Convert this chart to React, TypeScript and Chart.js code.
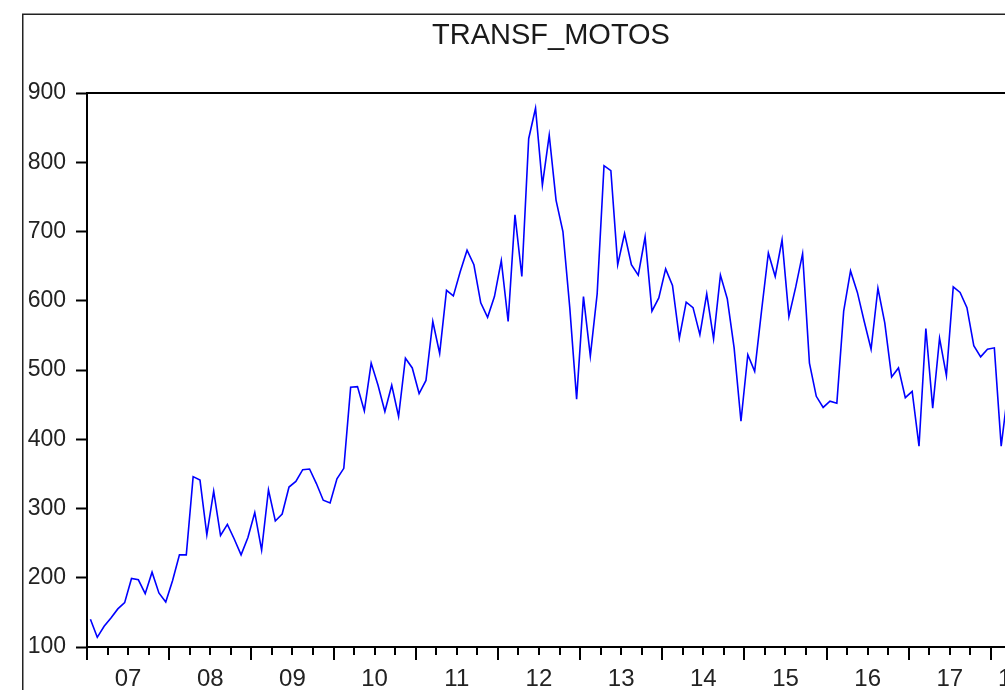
import React, { useEffect, useRef } from 'react';
import { Chart, registerables } from 'chart.js';

Chart.register(...registerables);

const TITLE = 'TRANSF_MOTOS';

// Monthly observations starting January 2007 (index 0)
const values: number[] = [
  140, 114, 130, 142, 155, 164, 199, 197, 177, 208, 178, 165,
  196, 233, 233, 346, 341, 262, 325, 261, 277, 256, 233, 258,
  294, 240, 327, 282, 292, 331, 339, 356, 357, 336, 312, 308,
  343, 358, 475, 476, 441, 510, 478, 440, 478, 433, 517, 503,
  466, 485, 570, 524, 615, 607, 642, 673, 652, 597, 576, 606,
  658, 570, 724, 635, 834, 878, 767, 839, 745, 700, 590, 458,
  606, 520, 610, 795, 788, 652, 697, 652, 637, 692, 585, 604,
  646, 622, 546, 598, 590, 551, 610, 545, 637, 603, 532, 426,
  522, 498, 585, 669, 635, 688, 577, 620, 668, 510, 462, 446,
  455, 452, 585, 643, 612, 570, 530, 618, 568, 490, 503, 460,
  469, 390, 560, 445, 546, 492, 620, 612, 590, 535, 519, 530,
  532, 390, 470,
];

const yTickValues: number[] = [100, 200, 300, 400, 500, 600, 700, 800, 900];
const xYearLabels: string[] = ['07', '08', '09', '10', '11', '12', '13', '14', '15', '16', '17', '18'];
const AXIS_END_MONTH = 138; // axis runs to end of June 2018

const FONT = '"Liberation Sans", Arial, sans-serif';

export default function App() {
  const ref = useRef<HTMLCanvasElement | null>(null);

  useEffect(() => {
    if (!ref.current) return;
    const points = values.map((v, i) => ({ x: i + 0.5, y: v }));

    const labelAt = new Map<number, string>();
    xYearLabels.forEach((l, k) => {
      const s = k * 12;
      const e = Math.min(s + 12, AXIS_END_MONTH);
      labelAt.set((s + e) / 2, l);
    });
    const quarterTicks: number[] = [];
    for (let v = 0; v <= AXIS_END_MONTH; v += 3) quarterTicks.push(v);

    const framePlugin = {
      id: 'frameDeco',
      afterDraw(chart: any) {
        const { ctx, chartArea } = chart;
        const { left, right, top, bottom } = chartArea;
        const xs = chart.scales.x;
        ctx.save();
        ctx.strokeStyle = '#000';
        ctx.lineWidth = 2;
        ctx.beginPath();
        ctx.moveTo(left - 1, top);
        ctx.lineTo(right, top);
        ctx.lineTo(right, bottom);
        ctx.stroke();
        quarterTicks.forEach((v) => {
          const px = Math.round(xs.getPixelForValue(v));
          const len = v % 12 === 0 ? 13 : 8;
          ctx.beginPath();
          ctx.moveTo(px, bottom);
          ctx.lineTo(px, bottom + len);
          ctx.stroke();
        });
        ctx.lineWidth = 1.5;
        ctx.strokeStyle = '#222';
        ctx.beginPath();
        ctx.moveTo(22.75, chart.height);
        ctx.lineTo(22.75, 14.25);
        ctx.lineTo(chart.width, 14.25);
        ctx.stroke();
        ctx.fillStyle = '#1a1a1a';
        ctx.font = '29px ' + FONT;
        ctx.textAlign = 'center';
        ctx.textBaseline = 'alphabetic';
        ctx.fillText(TITLE, 551, 44);
        ctx.restore();
      },
    };

    const chart = new Chart(ref.current, {
      type: 'line',
      data: {
        datasets: [
          {
            label: TITLE,
            data: points,
            borderColor: '#0000ff',
            borderWidth: 1.6,
            pointRadius: 0,
            tension: 0,
            fill: false,
          },
        ],
      },
      options: {
        animation: false,
        responsive: false,
        maintainAspectRatio: false,
        layout: { padding: { top: 93, right: 28, left: 0, bottom: 0 } },
        plugins: {
          legend: { display: false },
          title: { display: false },
          tooltip: { enabled: false },
        },
        scales: {
          x: {
            type: 'linear',
            min: 0,
            max: AXIS_END_MONTH,
            afterBuildTicks: (scale: any) => {
              scale.ticks = quarterTicks.map((v) => ({ value: v }));
            },
            afterFit: (scale: any) => {
              scale.height = 43;
            },
            ticks: {
              autoSkip: false,
              maxRotation: 0,
              minRotation: 0,
              padding: 5,
              color: '#222',
              font: { family: FONT, size: 24 },
              callback: (value: any) => labelAt.get(Number(value)) ?? '',
            },
            grid: {
              display: true,
              drawOnChartArea: false,
              drawTicks: true,
              tickLength: 13,
              tickColor: 'rgba(0,0,0,0)',
            },
            border: { display: true, color: '#000', width: 2 },
          },
          y: {
            type: 'linear',
            min: 100,
            max: 900,
            afterBuildTicks: (scale: any) => {
              scale.ticks = yTickValues.map((v) => ({ value: v }));
            },
            afterFit: (scale: any) => {
              scale.width = 87;
            },
            ticks: {
              padding: 10,
              color: '#222',
              font: { family: FONT, size: 23 },
              callback: (value: any) => String(value),
            },
            grid: {
              display: true,
              drawOnChartArea: false,
              drawTicks: true,
              tickLength: 11,
              tickColor: '#000',
              tickWidth: 2,
            },
            border: { display: true, color: '#000', width: 2 },
          },
        },
      },
      plugins: [framePlugin],
    } as any);

    return () => chart.destroy();
  }, []);

  return (
    <div
      style={{
        position: 'fixed',
        left: 0,
        top: 0,
        width: 1005,
        height: 690,
        overflow: 'hidden',
        background: '#fff',
      }}
    >
      <canvas ref={ref} width={1060} height={690} style={{ display: 'block' }} />
    </div>
  );
}
